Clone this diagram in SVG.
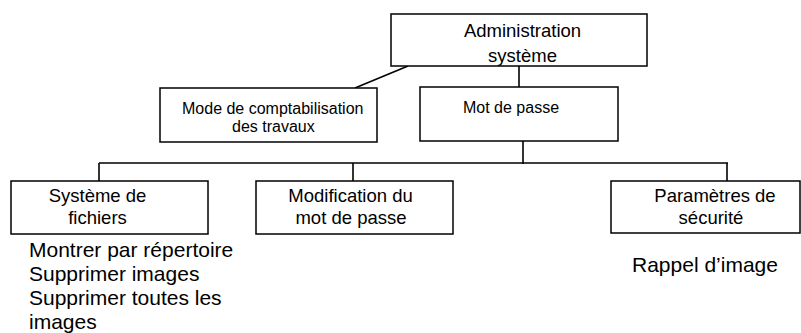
<svg xmlns="http://www.w3.org/2000/svg" width="801" height="333" viewBox="0 0 801 333">
<style>
.box{fill:#fff;stroke:#000;stroke-width:1.5}
.ln{stroke:#000;stroke-width:1.6;fill:none}
text{font-family:"Liberation Sans",Arial,sans-serif;fill:#000}
.t18{font-size:18.5px;text-anchor:middle}
.t16{font-size:16px}
.t21{font-size:21px}
</style>
<rect width="801" height="333" fill="#fff"/>
<g id="connectors">
<line class="ln" x1="355" y1="88" x2="408" y2="66"/>
<line class="ln" x1="519" y1="66" x2="519" y2="87"/>
<line class="ln" x1="523" y1="141" x2="523" y2="164"/>
<line class="ln" x1="99" y1="163" x2="728" y2="163"/>
<line class="ln" x1="99" y1="163" x2="99" y2="181"/>
<line class="ln" x1="353" y1="163" x2="353" y2="181"/>
<line class="ln" x1="727" y1="163" x2="727" y2="181"/>
</g>
<g id="admin">
<rect class="box" x="391" y="14" width="256" height="52"/>
<text class="t18" x="522.5" y="37">Administration</text>
<text class="t18" x="522.5" y="62">système</text>
</g>
<g id="mode">
<rect class="box" x="160" y="88" width="217" height="54"/>
<text class="t16" x="182" y="114">Mode de comptabilisation</text>
<text class="t16" x="232" y="132">des travaux</text>
</g>
<g id="motdepasse">
<rect class="box" x="420" y="87" width="198" height="54"/>
<text class="t16" x="463" y="113">Mot de passe</text>
</g>
<g id="systeme">
<rect class="box" x="11" y="181" width="197" height="53"/>
<text class="t18" x="97.5" y="202">Système de</text>
<text class="t18" x="97.5" y="224">fichiers</text>
</g>
<g id="modification">
<rect class="box" x="256" y="181" width="197" height="53"/>
<text class="t18" x="350.5" y="202">Modification du</text>
<text class="t18" x="351" y="224">mot de passe</text>
</g>
<g id="parametres">
<rect class="box" x="611" y="181" width="189" height="52"/>
<text class="t18" x="715" y="202">Paramètres de</text>
<text class="t18" x="711" y="224">sécurité</text>
</g>
<g id="list-systeme">
<text class="t21" x="29" y="257">Montrer par répertoire</text>
<text class="t21" x="29" y="281">Supprimer images</text>
<text class="t21" x="29" y="305">Supprimer toutes les</text>
<text class="t21" x="29" y="329">images</text>
</g>
<g id="list-parametres">
<text class="t21" x="632" y="272">Rappel d’image</text>
</g>
</svg>
